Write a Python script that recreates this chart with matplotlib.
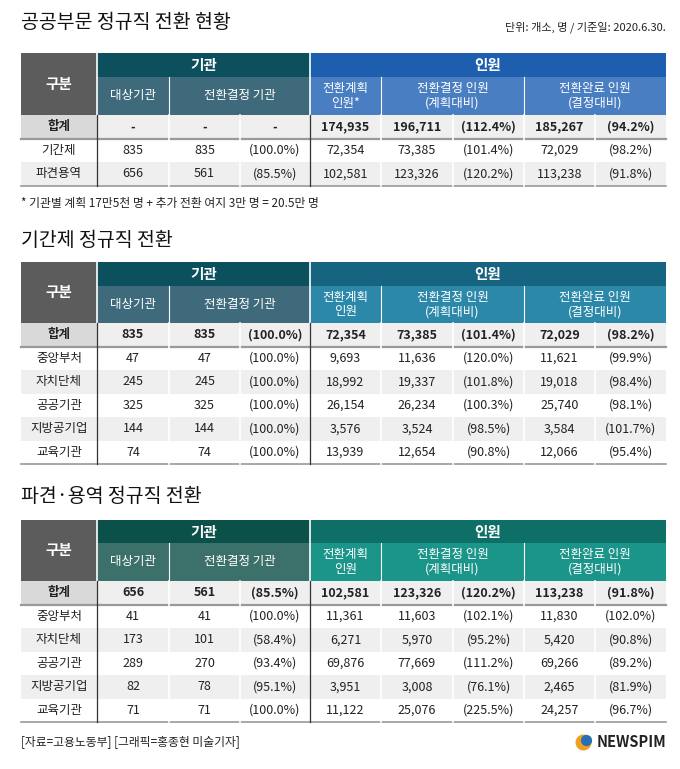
import matplotlib.pyplot as plt
from matplotlib.patches import Rectangle
from matplotlib import font_manager

kr_fonts = [f.name for f in font_manager.fontManager.ttflist if 'CJK' in f.name]
plt.rcParams['font.family'] = ['Noto Sans CJK KR', 'Noto Sans CJK JP', 'Noto Sans CJK SC'] + kr_fonts + ['DejaVu Sans']

# data
t1_rows = ['합계', '기간제', '파견용역']
t1_vals = [['-', '-', '-', '174,935', '196,711', '(112.4%)', '185,267', '(94.2%)'],
           ['835', '835', '(100.0%)', '72,354', '73,385', '(101.4%)', '72,029', '(98.2%)'],
           ['656', '561', '(85.5%)', '102,581', '123,326', '(120.2%)', '113,238', '(91.8%)']]

t2_rows = ['합계', '중앙부처', '자치단체', '공공기관', '지방공기업', '교육기관']
t2_vals = [['835', '835', '(100.0%)', '72,354', '73,385', '(101.4%)', '72,029', '(98.2%)'],
           ['47', '47', '(100.0%)', '9,693', '11,636', '(120.0%)', '11,621', '(99.9%)'],
           ['245', '245', '(100.0%)', '18,992', '19,337', '(101.8%)', '19,018', '(98.4%)'],
           ['325', '325', '(100.0%)', '26,154', '26,234', '(100.3%)', '25,740', '(98.1%)'],
           ['144', '144', '(100.0%)', '3,576', '3,524', '(98.5%)', '3,584', '(101.7%)'],
           ['74', '74', '(100.0%)', '13,939', '12,654', '(90.8%)', '12,066', '(95.4%)']]

t3_rows = ['합계', '중앙부처', '자치단체', '공공기관', '지방공기업', '교육기관']
t3_vals = [['656', '561', '(85.5%)', '102,581', '123,326', '(120.2%)', '113,238', '(91.8%)'],
           ['41', '41', '(100.0%)', '11,361', '11,603', '(102.1%)', '11,830', '(102.0%)'],
           ['173', '101', '(58.4%)', '6,271', '5,970', '(95.2%)', '5,420', '(90.8%)'],
           ['289', '270', '(93.4%)', '69,876', '77,669', '(111.2%)', '69,266', '(89.2%)'],
           ['82', '78', '(95.1%)', '3,951', '3,008', '(76.1%)', '2,465', '(81.9%)'],
           ['71', '71', '(100.0%)', '11,122', '25,076', '(225.5%)', '24,257', '(96.7%)']]

cols = [21, 97, 169, 240, 310, 381, 453, 524, 595, 666]

fig = plt.figure(figsize=(6.8, 7.69), dpi=100)
ax = fig.add_axes([0, 0, 1, 1])
ax.set_xlim(0, 680)
ax.set_ylim(769, 0)
ax.axis('off')


def rect(x0, y0, x1, y1, c):
    ax.add_patch(Rectangle((x0, y0), x1 - x0, y1 - y0, color=c, lw=0))


def table(top, mid, sub, rh, rows, vals, c_org, c_org2, c_ppl, c_ppl2, plan_lbl):
    rect(cols[0], top, cols[1], sub, '#5c5c5c')
    rect(cols[1], top, cols[4], mid, c_org)
    rect(cols[1], mid, cols[4], sub, c_org2)
    rect(cols[4], top, cols[9], mid, c_ppl)
    rect(cols[4], mid, cols[9], sub, c_ppl2)
    ax.text((cols[0] + cols[1]) / 2, (top + sub) / 2, '구분', color='white', fontsize=10.5,
            weight='bold', ha='center', va='center')
    ax.text((cols[1] + cols[4]) / 2, (top + mid) / 2, '기관', color='white', fontsize=10.5,
            weight='bold', ha='center', va='center')
    ax.text((cols[4] + cols[9]) / 2, (top + mid) / 2, '인원', color='white', fontsize=10.5,
            weight='bold', ha='center', va='center')
    subs = [(cols[1], cols[2], '대상기관'), (cols[2], cols[4], '전환결정 기관'),
            (cols[4], cols[5], plan_lbl), (cols[5], cols[7], '전환결정 인원\n(계획대비)'),
            (cols[7], cols[9], '전환완료 인원\n(결정대비)')]
    for x0, x1, s in subs:
        ax.text((x0 + x1) / 2, (mid + sub) / 2, s, color='white', fontsize=9,
                ha='center', va='center', linespacing=1.15)
    for x in [cols[2], cols[5], cols[7]]:
        ax.plot([x, x], [mid, sub], color='white', lw=0.8)
    ax.plot([cols[4], cols[4]], [top, sub], color='white', lw=1.2)
    ax.plot([cols[1], cols[1]], [top, sub], color='white', lw=1.2)
    for i, (name, row) in enumerate(zip(rows, vals)):
        y0 = sub + i * rh
        y1 = y0 + rh
        if i == 0:
            rect(cols[0], y0, cols[1], y1, '#d9d9d9')
            rect(cols[1], y0, cols[9], y1, '#efefef')
        elif i % 2 == 0:
            rect(cols[0], y0, cols[9], y1, '#efefef')
        w = 'bold' if i == 0 else 'normal'
        yc = (y0 + y1) / 2
        ax.text((cols[0] + cols[1]) / 2, yc, name, fontsize=9, weight=w, color='#222222',
                ha='center', va='center')
        for j, v in enumerate(row):
            ax.text((cols[j + 1] + cols[j + 2]) / 2, yc, v, fontsize=9, weight=w,
                    color='#222222', ha='center', va='center')
    bottom = sub + len(rows) * rh
    ax.plot([cols[0], cols[9]], [sub + rh, sub + rh], color='#999999', lw=1.6)
    ax.plot([cols[0], cols[9]], [bottom, bottom], color='#999999', lw=1.2)
    for x in [cols[1], cols[4]]:
        ax.plot([x, x], [sub, bottom], color='#333333', lw=0.9)
    for x in [cols[2], cols[3], cols[5], cols[6], cols[7], cols[8]]:
        ax.plot([x, x], [sub, bottom], color='white', lw=1.2)


ax.text(21, 22, '공공부문 정규직 전환 현황', fontsize=14, ha='left', va='center', color='#111111')
ax.text(666, 27, '단위: 개소, 명 / 기준일: 2020.6.30.', fontsize=8, ha='right', va='center',
        color='#222222')
table(53, 77, 115, 23.5, t1_rows, t1_vals, '#0c4f5d', '#3e6a7b', '#1d5fae', '#4a7ec2', '전환계획\n인원*')
ax.text(21, 204, '* 기관별 계획 17만5천 명 + 추가 전환 여지 3만 명 = 20.5만 명', fontsize=8.5,
        ha='left', va='center', color='#222222')

ax.text(21, 240, '기간제 정규직 전환', fontsize=14, ha='left', va='center', color='#111111')
table(262, 286, 323, 23.5, t2_rows, t2_vals, '#0c4f5d', '#3e6a7b', '#166480', '#2b88a8', '전환계획\n인원')

ax.text(21, 496, '파견·용역 정규직 전환', fontsize=14, ha='left', va='center', color='#111111')
table(520, 543, 581, 23.5, t3_rows, t3_vals, '#0b5049', '#3c706a', '#0e6f67', '#1b9489', '전환계획\n인원')

ax.text(21, 742, '[자료=고용노동부] [그래픽=홍종현 미술기자]', fontsize=8.5, ha='left', va='center',
        color='#222222')
ax.scatter([583], [742], s=110, color='#f0a020')
ax.scatter([586], [740], s=50, color='#2a6fb5')
ax.text(666, 742, 'NEWSPIM', fontsize=10.5, weight='bold', ha='right', va='center', color='#222222')

fig.savefig('out.png', dpi=100, facecolor='white')
